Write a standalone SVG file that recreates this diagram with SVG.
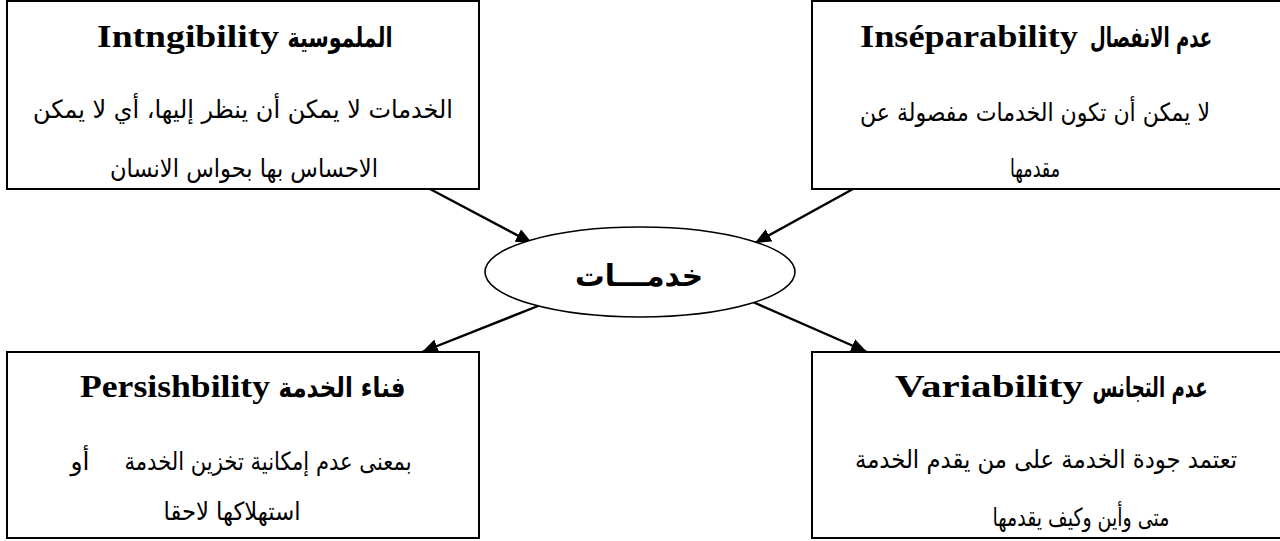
<svg xmlns="http://www.w3.org/2000/svg" width="1280" height="541" viewBox="0 0 1280 541">
  <style>
    .box { fill: #ffffff; stroke: #000000; stroke-width: 2; }
    .hub { fill: #ffffff; stroke: #000000; stroke-width: 1.6; }
    .lat { font-family: "Liberation Serif", "Times New Roman", serif; font-weight: bold; font-size: 32px; fill: #000; }
    .arh { font-family: "DejaVu Sans", "Noto Sans", sans-serif; font-weight: bold; font-size: 28px; fill: #000; }
    .ar { font-family: "DejaVu Sans", "Noto Sans", sans-serif; font-size: 25px; fill: #000; }
    .hubtxt { font-family: "DejaVu Sans", "Noto Sans", sans-serif; font-weight: bold; font-size: 30px; fill: #000; }
    .link { stroke: #000000; stroke-width: 2.4; fill: none; marker-end: url(#head); }
  </style>
  <defs>
    <marker id="head" markerUnits="userSpaceOnUse" markerWidth="18" markerHeight="14" refX="16" refY="7" orient="auto">
      <path d="M0,0 L16,7 L0,14 Z" fill="#000"/>
    </marker>
    <!-- the last line of each box is cut by the box's inner edge -->
    <clipPath id="clipTL"><rect x="8" y="140" width="470" height="43"/></clipPath>
    <clipPath id="clipTR"><rect x="813" y="140" width="467" height="43"/></clipPath>
    <clipPath id="clipBL"><rect x="8" y="485" width="470" height="47"/></clipPath>
    <clipPath id="clipBR"><rect x="813" y="485" width="467" height="47"/></clipPath>
  </defs>
  <rect width="1280" height="541" fill="#ffffff"/>

  <!-- connectors -->
  <g id="connectors">
    <line class="link" x1="430" y1="189" x2="532" y2="243"/>
    <line class="link" x1="853" y1="189" x2="755" y2="243"/>
    <line class="link" x1="543" y1="304" x2="422" y2="352"/>
    <line class="link" x1="753" y1="302" x2="867" y2="352"/>
  </g>

  <!-- Intangibility -->
  <g id="node-intangibility">
    <rect class="box" x="7" y="1" width="472" height="188"/>
    <text class="lat" x="188" y="47" text-anchor="middle" textLength="182" lengthAdjust="spacingAndGlyphs">Intngibility</text>
    <text class="arh" x="340" y="47" text-anchor="middle" textLength="105" lengthAdjust="spacingAndGlyphs">الملموسية</text>
    <text class="ar" x="243" y="118" text-anchor="middle" textLength="420" lengthAdjust="spacingAndGlyphs">الخدمات لا يمكن أن ينظر إليها، أي لا يمكن</text>
    <text class="ar" x="244" y="177" text-anchor="middle" textLength="268" lengthAdjust="spacingAndGlyphs" clip-path="url(#clipTL)">الاحساس بها بحواس الانسان</text>
  </g>

  <!-- Inseparability -->
  <g id="node-inseparability">
    <rect class="box" x="812" y="1" width="470" height="188"/>
    <text class="lat" x="969" y="47" text-anchor="middle" textLength="218" lengthAdjust="spacingAndGlyphs">Inséparability</text>
    <text class="arh" x="1151" y="47" text-anchor="middle" textLength="122" lengthAdjust="spacingAndGlyphs">عدم الانفصال</text>
    <text class="ar" x="1035" y="121" text-anchor="middle" textLength="350" lengthAdjust="spacingAndGlyphs">لا يمكن أن تكون الخدمات مفصولة عن</text>
    <text class="ar" x="1035" y="177" text-anchor="middle" textLength="50" lengthAdjust="spacingAndGlyphs" clip-path="url(#clipTR)">مقدمها</text>
  </g>

  <!-- central node -->
  <g id="node-services">
    <ellipse class="hub" cx="640" cy="272" rx="155" ry="45"/>
    <text class="hubtxt" x="639" y="286" text-anchor="middle" textLength="128" lengthAdjust="spacingAndGlyphs">خدمـــات</text>
  </g>

  <!-- Perishability -->
  <g id="node-perishability">
    <rect class="box" x="7" y="352" width="472" height="186"/>
    <text class="lat" x="175" y="397" text-anchor="middle" textLength="190" lengthAdjust="spacingAndGlyphs">Persishbility</text>
    <text class="arh" x="342" y="397" text-anchor="middle" textLength="127" lengthAdjust="spacingAndGlyphs">فناء الخدمة</text>
    <text class="ar" x="268" y="470" text-anchor="middle" textLength="287" lengthAdjust="spacingAndGlyphs">بمعنى عدم إمكانية تخزين الخدمة</text>
    <text class="ar" x="80" y="470" text-anchor="middle">أو</text>
    <text class="ar" x="232" y="520" text-anchor="middle" textLength="137" lengthAdjust="spacingAndGlyphs" clip-path="url(#clipBL)">استهلاكها لاحقا</text>
  </g>

  <!-- Variability -->
  <g id="node-variability">
    <rect class="box" x="812" y="352" width="470" height="186"/>
    <text class="lat" x="989" y="397" text-anchor="middle" textLength="188" lengthAdjust="spacingAndGlyphs">Variability</text>
    <text class="arh" x="1150" y="397" text-anchor="middle" textLength="115" lengthAdjust="spacingAndGlyphs">عدم التجانس</text>
    <text class="ar" x="1046" y="468" text-anchor="middle" textLength="382" lengthAdjust="spacingAndGlyphs">تعتمد جودة الخدمة على من يقدم الخدمة</text>
    <text class="ar" x="1081" y="526" text-anchor="middle" textLength="177" lengthAdjust="spacingAndGlyphs" clip-path="url(#clipBR)">متى وأين وكيف يقدمها</text>
  </g>
</svg>
